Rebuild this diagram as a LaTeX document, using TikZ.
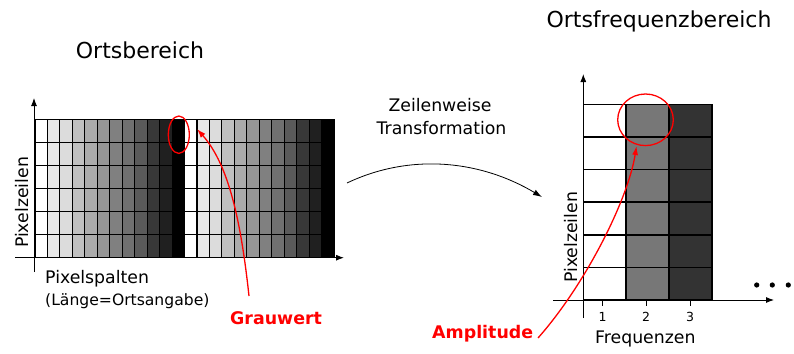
\documentclass[tikz,border=0pt]{standalone}
\usepackage{fontspec}
\setmainfont{DejaVu Sans}
\usetikzlibrary{arrows.meta,shapes.geometric}
\tikzset{
  lbl/.style={inner sep=0pt, font=\fontsize{17.3}{20}\selectfont},
  ttl/.style={inner sep=0pt, font=\fontsize{22}{26}\selectfont},
  redlbl/.style={inner sep=0pt, text=red, font=\fontsize{17.4}{20}\selectfont\bfseries},
  axis/.style={line width=0.9pt, -{Latex[length=8pt,width=6pt]}},
  redring/.style={ellipse, draw=red, line width=1.3pt, inner sep=0pt},
  redarrow/.style={draw=red, line width=1.3pt, -{Latex[length=9pt,width=6pt]}},
  gridline/.style={line width=1.1pt},
  fgridline/.style={line width=1.6pt}
}
\begin{document}
\begin{tikzpicture}[x=1pt,y=-1pt]
\useasboundingbox (0,0) rectangle (794,353);
% ---------- Ortsbereich ----------
\node[ttl] (t1) at (140,50) {Ortsbereich};
\foreach \g [count=\i from 0] in {255,232,220,192,171,150,128,112,90,56,32,0} {
  \fill[color={rgb,255:red,\g;green,\g;blue,\g}] (35+\i*12.46,119.3) rectangle ++(12.46,138.4);
  \fill[color={rgb,255:red,\g;green,\g;blue,\g}] (35+\i*12.46+149.5,119.3) rectangle ++(12.46,138.4);
}
\foreach \k in {0,...,24} \draw[gridline] (35+\k*12.46,119.3) -- ++(0,138.4);
\foreach \r in {0,...,6} \draw[gridline] (35,119.3+\r*23.07) -- (334,119.3+\r*23.07);
\coordinate (ly0) at (34,272);
\coordinate (ly1) at (34,98);
\coordinate (lx0) at (15,257.7);
\coordinate (lx1) at (344,257.7);
\draw[axis] (ly0) -- (ly1);
\draw[axis] (lx0) -- (lx1);
\node[lbl, rotate=90, anchor=base] (pz1) at (28.5,202.5) {Pixelzeilen};
\node[lbl, anchor=base west] (ps) at (45,283.3) {Pixelspalten};
\node[inner sep=0pt, anchor=base west, font=\fontsize{15.6}{18}\selectfont] (lo) at (45,305) {(Länge=Ortsangabe)};
\node[redlbl, anchor=base west] (grau) at (230,324) {Grauwert};
\node[redring, minimum width=21pt, minimum height=37.4pt] (e1) at (178.8,134.7) {};
\coordinate (gs) at (249,296);
\coordinate (gt) at (197,129);
\draw[redarrow] (gs) .. controls (241,222) and (229,165) .. (gt);
% ---------- middle ----------
\node[lbl] (zw) at (440,105) {Zeilenweise};
\node[lbl] (tf) at (441.5,128) {Transformation};
\coordinate (ms) at (347,183);
\coordinate (me) at (542,197);
\draw[line width=0.8pt, -{Latex[length=9pt,width=6pt]}] (ms) .. controls (410,153) and (480,160) .. (me);
% ---------- Ortsfrequenzbereich ----------
\node[ttl] (t2) at (659,21.7) {Ortsfrequenzbereich};
\fill[white] (583.3,104.3) rectangle (626,300);
\fill[color={rgb,255:red,119;green,119;blue,119}] (626,104.3) rectangle (669,300);
\fill[color={rgb,255:red,51;green,51;blue,51}] (669,104.3) rectangle (712,300);
\foreach \xx in {583.3,626,669,712} \draw[fgridline] (\xx,104.3) -- (\xx,300);
\foreach \r in {0,...,6} \draw[fgridline] (583.3,104.3+\r*32.62) -- (712,104.3+\r*32.62);
\coordinate (ry0) at (583.3,318);
\coordinate (ry1) at (583.3,74);
\coordinate (rx0) at (553,300);
\coordinate (rx1) at (774,300);
\draw[axis] (ry0) -- (ry1);
\draw[axis] (rx0) -- (rx1);
\foreach \xx/\n in {602.7/1,646/2,690/3} {
  \draw[line width=0.8pt] (\xx,300) -- (\xx,306);
  \node[inner sep=0pt, anchor=base, font=\fontsize{12.5}{14}\selectfont] (f\n) at (\xx,321) {\n};
}
\node[lbl, anchor=base west] (fq) at (595,343.3) {Frequenzen};
\node[lbl, rotate=90, anchor=base] (pz2) at (577.3,237.3) {Pixelzeilen};
\foreach \xx [count=\j] in {756.7,772.3,788.3} \fill (\xx,285) circle (2.6) coordinate (d\j);
\node[redring, minimum width=55.6pt, minimum height=51.6pt] (e2) at (645.5,119.8) {};
\node[redlbl, anchor=base west] (amp) at (432,338.3) {Amplitude};
\coordinate (as) at (538,338);
\coordinate (at) at (636.5,146);
\draw[redarrow] (as) .. controls (585,285) and (628,200) .. (at);
\end{tikzpicture}
\end{document}
